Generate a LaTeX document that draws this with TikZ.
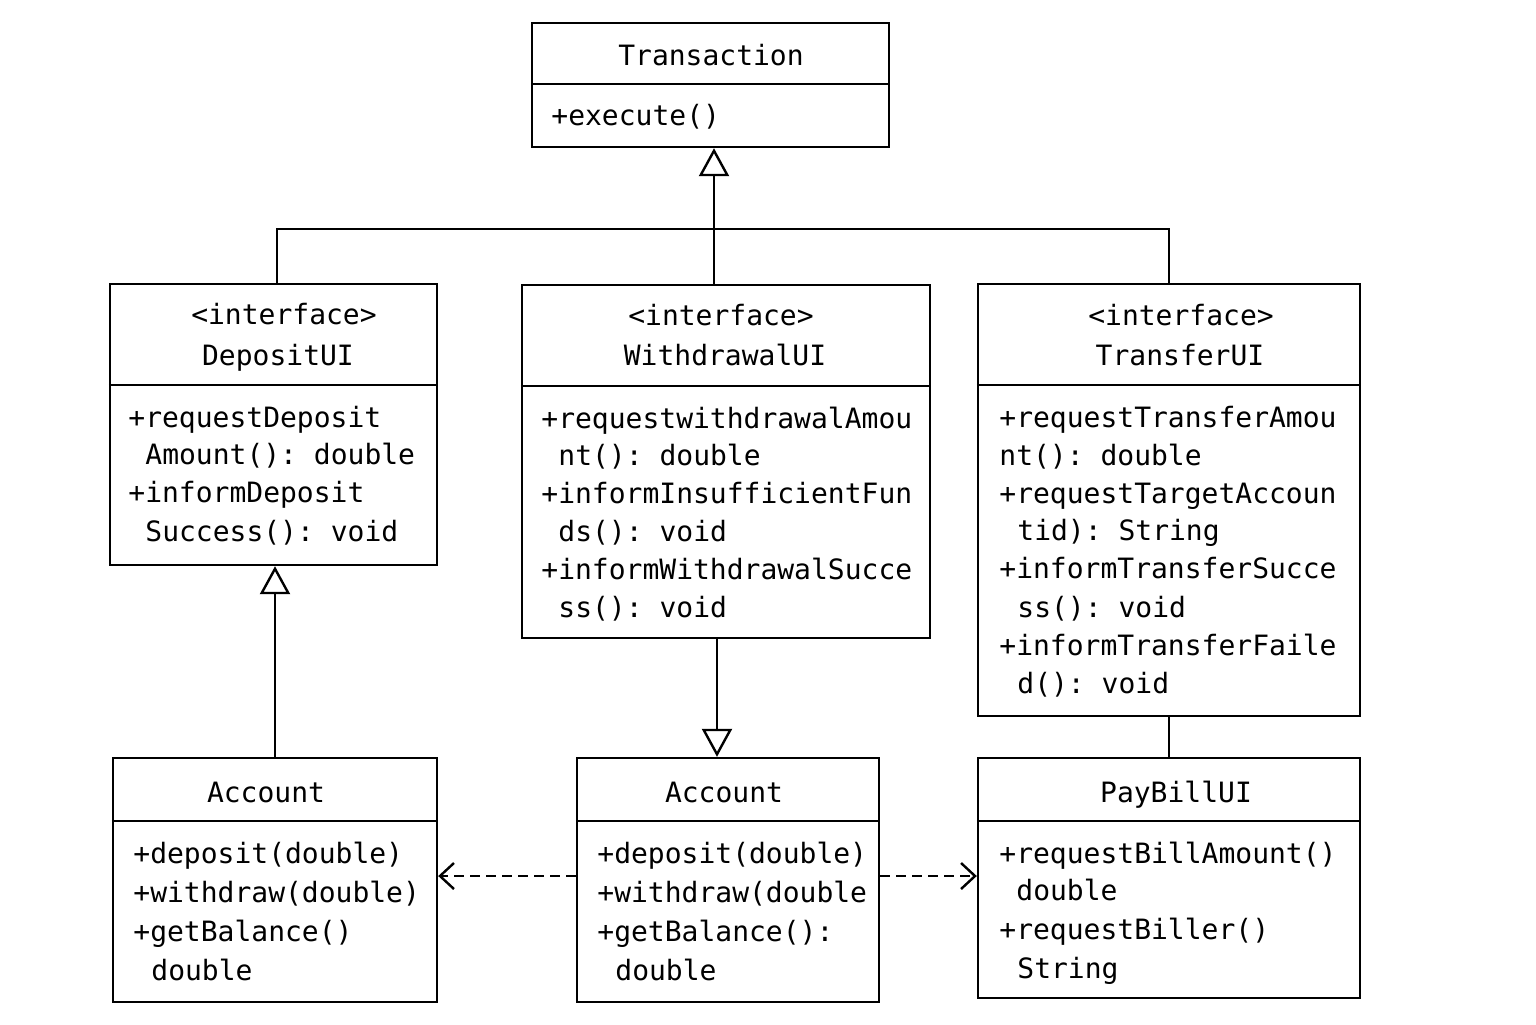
\documentclass[tikz,border=0pt]{standalone}
\usepackage{fontspec}
\newfontfamily\umlfont{DejaVu Sans Mono}
\usetikzlibrary{arrows.meta,fit}
\frenchspacing
\tikzset{
  ln/.style={line width=1.2pt, black},
  box/.style={draw, line width=1.2pt, inner sep=0pt, rectangle},
  mem/.style={anchor=base west, inner sep=0pt, font=\umlfont\fontsize{14}{17}\selectfont\frenchspacing},
  ttl/.style={anchor=base, inner sep=0pt, font=\umlfont\fontsize{14}{17}\selectfont\frenchspacing},
  gen/.style={ln, -{Triangle[open, length=14pt, width=15pt, line width=1.2pt]}},
  depend/.style={ln, dash pattern=on 5pt off 3pt, -{Straight Barb[length=7pt, width=13pt, line width=1.2pt]}}
}
\newcommand\umem[4]{\node[mem] (#1) at (#2,#3) {#4};}
\newcommand\uttl[4]{\node[ttl] (#1) at (#2,#3) {#4};}
\begin{document}
\begin{tikzpicture}[x=0.5pt, y=-0.5pt]
\useasboundingbox (0,0) rectangle (1536,1024);
\fill[white] (0,0) rectangle (1536,1024);

% boxes
\node[box, fit={(532,23) (889,147)}] (trans) {};
\node[box, fit={(110,284) (437,565)}] (dep) {};
\node[box, fit={(522,285) (930,638)}] (wd) {};
\node[box, fit={(978,284) (1360,716)}] (tr) {};
\node[box, fit={(113,758) (437,1002)}] (accL) {};
\node[box, fit={(577,758) (879,1002)}] (accM) {};
\node[box, fit={(978,758) (1360,998)}] (pay) {};

% dividers
\coordinate (d84) at (0,84);
\coordinate (d385) at (0,385);
\coordinate (d386) at (0,386);
\coordinate (d821) at (0,821);
\draw[ln] (trans.west |- d84) -- (trans.east |- d84);
\draw[ln] (dep.west |- d385) -- (dep.east |- d385);
\draw[ln] (wd.west |- d386) -- (wd.east |- d386);
\draw[ln] (tr.west |- d385) -- (tr.east |- d385);
\draw[ln] (accL.west |- d821) -- (accL.east |- d821);
\draw[ln] (accM.west |- d821) -- (accM.east |- d821);
\draw[ln] (pay.west |- d821) -- (pay.east |- d821);

% Transaction
\uttl{transT}{711}{65}{Transaction}
\umem{transM}{551}{125}{+execute()}

% DepositUI
\uttl{depS}{284}{324}{<interface>}
\uttl{depT}{278}{365}{DepositUI}
\umem{depA}{128}{427}{+requestDeposit}
\umem{depB}{145}{464}{Amount(): double}
\umem{depC}{128}{502}{+informDeposit}
\umem{depD}{145}{541}{Success(): void}

% WithdrawalUI
\uttl{wdS}{721}{325}{<interface>}
\uttl{wdT}{725}{365}{WithdrawalUI}
\umem{wdA}{541}{428}{+requestwithdrawalAmou}
\umem{wdB}{558}{465}{nt(): double}
\umem{wdC}{541}{503}{+informInsufficientFun}
\umem{wdD}{558}{541}{ds(): void}
\umem{wdE}{541}{579}{+informWithdrawalSucce}
\umem{wdF}{558}{617}{ss(): void}

% TransferUI
\uttl{trS}{1181}{325}{<interface>}
\uttl{trT}{1180}{365}{TransferUI}
\umem{trA}{999}{427}{+requestTransferAmou}
\umem{trB}{999}{465}{nt(): double}
\umem{trC}{999}{503}{+requestTargetAccoun}
\umem{trD}{1017}{540}{tid): String}
\umem{trE}{999}{578}{+informTransferSucce}
\umem{trF}{1017}{617}{ss(): void}
\umem{trG}{999}{655}{+informTransferFaile}
\umem{trH}{1017}{693}{d(): void}

% Account left
\uttl{accLT}{266}{802}{Account}
\umem{accLA}{133}{863}{+deposit(double)}
\umem{accLB}{133}{902}{+withdraw(double)}
\umem{accLC}{133}{941}{+getBalance()}
\umem{accLD}{151}{980}{double}

% Account middle
\uttl{accMT}{724}{802}{Account}
\umem{accMA}{597}{863}{+deposit(double)}
\umem{accMB}{597}{902}{+withdraw(double}
\umem{accMC}{597}{941}{+getBalance():}
\umem{accMD}{615}{980}{double}

% PayBillUI
\uttl{payT}{1176}{802}{PayBillUI}
\umem{payA}{999}{863}{+requestBillAmount()}
\umem{payB}{1016}{900}{double}
\umem{payC}{999}{939}{+requestBiller()}
\umem{payD}{1017}{978}{String}

% connectors
\coordinate (j) at (714,229);
\coordinate (lx) at (277,0);
\coordinate (mx) at (717,0);
\coordinate (dy) at (0,876);
\draw[ln] (dep.north -| lx) |- (j) -| (tr.north);
\draw[gen] (wd.north -| j) -- (trans.south -| j);
\draw[gen] (accL.north) -- (accL.north |- dep.south);
\draw[gen] (wd.south -| mx) -- (accM.north -| mx);
\draw[ln] (tr.south) -- (pay.north);
\draw[depend] (accM.west |- dy) -- (accL.east |- dy);
\draw[depend] (accM.east |- dy) -- (pay.west |- dy);
\end{tikzpicture}
\end{document}
